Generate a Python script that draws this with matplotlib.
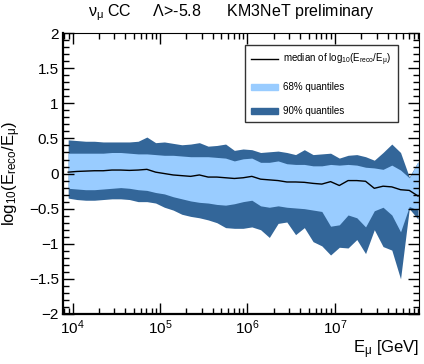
import numpy as np
import matplotlib
matplotlib.use("Agg")
import matplotlib.pyplot as plt
from matplotlib.ticker import MultipleLocator, LogLocator, NullFormatter
from matplotlib.lines import Line2D
from matplotlib.patches import Patch

plt.rcParams["font.family"] = ["Liberation Sans", "DejaVu Sans"]
plt.rcParams["mathtext.fontset"] = "custom"
plt.rcParams["mathtext.rm"] = "Liberation Sans"
plt.rcParams["mathtext.it"] = "Liberation Sans"

# bin centres in log10(E/GeV)
log_e = [3.95, 4.05, 4.15, 4.25, 4.35, 4.45, 4.55, 4.65, 4.75, 4.85,
         4.95, 5.05, 5.15, 5.25, 5.35, 5.45, 5.55, 5.65, 5.75, 5.85,
         5.95, 6.05, 6.15, 6.25, 6.35, 6.45, 6.55, 6.65, 6.75, 6.85,
         6.95, 7.05, 7.15, 7.25, 7.35, 7.45, 7.55, 7.65, 7.75, 7.85, 7.95]

p95 = [0.48, 0.47, 0.46, 0.46, 0.45, 0.45, 0.45, 0.45, 0.46, 0.52,
       0.44, 0.45, 0.43, 0.41, 0.42, 0.44, 0.39, 0.40, 0.42, 0.33,
       0.35, 0.34, 0.30, 0.31, 0.32, 0.30, 0.27, 0.34, 0.27, 0.28,
       0.29, 0.22, 0.26, 0.27, 0.24, 0.19, 0.30, 0.42, 0.30, -0.05, 0.17]
p84 = [0.29, 0.29, 0.29, 0.29, 0.29, 0.30, 0.30, 0.29, 0.28, 0.28,
       0.27, 0.26, 0.26, 0.25, 0.24, 0.24, 0.24, 0.23, 0.22, 0.18,
       0.21, 0.22, 0.16, 0.16, 0.18, 0.14, 0.13, 0.13, 0.11, 0.11,
       0.13, 0.12, 0.13, 0.12, 0.09, 0.08, 0.06, 0.12, 0.05, -0.06, 0.17]
median = [0.02, 0.03, 0.035, 0.04, 0.04, 0.05, 0.05, 0.045, 0.05, 0.06,
          0.02, 0.0, -0.02, -0.03, -0.04, -0.02, -0.05, -0.05, -0.06, -0.07,
          -0.06, -0.04, -0.08, -0.09, -0.10, -0.12, -0.12, -0.125, -0.14, -0.15,
          -0.115, -0.17, -0.10, -0.10, -0.11, -0.21, -0.18, -0.19, -0.23, -0.24, -0.32]
p16 = [-0.21, -0.22, -0.23, -0.23, -0.22, -0.21, -0.20, -0.21, -0.23, -0.24,
       -0.27, -0.29, -0.33, -0.36, -0.39, -0.41, -0.42, -0.44, -0.45, -0.43,
       -0.40, -0.38, -0.46, -0.48, -0.46, -0.48, -0.49, -0.50, -0.52, -0.54,
       -0.75, -0.73, -0.59, -0.63, -0.76, -0.53, -0.48, -0.59, -0.83, -0.47, -0.52]
p5 = [-0.35, -0.37, -0.38, -0.38, -0.37, -0.36, -0.36, -0.37, -0.40, -0.40,
      -0.42, -0.48, -0.52, -0.58, -0.61, -0.63, -0.66, -0.70, -0.77, -0.78,
      -0.78, -0.76, -0.80, -0.91, -0.71, -0.69, -0.87, -0.77, -0.97, -1.03,
      -1.16, -1.05, -1.06, -0.94, -1.14, -0.80, -1.04, -1.09, -1.50, -0.50, -0.65]

light = "#99ccff"
dark = "#336699"

energy = 10 ** np.array(log_e)

fig = plt.figure(figsize=(4.24, 3.64), dpi=100)
ax = fig.add_axes([0.1486, 0.1374, 0.8394, 0.7716])

ax.fill_between(energy, p5, p95, color=dark, lw=0)
ax.fill_between(energy, p16, p84, color=light, lw=0)
ax.plot(energy, median, color="black", lw=1)

ax.set_xscale("log")
ax.set_xlim(10 ** 3.891, 10 ** 7.96)
ax.set_ylim(-2, 2)

ax.yaxis.set_major_locator(MultipleLocator(0.5))
ax.yaxis.set_minor_locator(MultipleLocator(0.1))
ax.xaxis.set_major_locator(LogLocator(base=10, numticks=10))
ax.xaxis.set_minor_locator(LogLocator(base=10, subs=np.arange(2, 10), numticks=20))
ax.xaxis.set_minor_formatter(NullFormatter())
ax.yaxis.set_major_formatter(plt.FuncFormatter(
    lambda v, p: ("%g" % v).replace("-", "\u2212")))

ax.tick_params(which="both", direction="in", top=True, right=True,
               labelsize=11, pad=3, width=1)
ax.tick_params(which="major", length=8)
ax.tick_params(which="minor", length=4)
for side in ["left", "bottom"]:
    ax.spines[side].set_linewidth(1.6)

ax.set_ylabel(r"log$_{10}$(E$_{\rm reco}$/E$_\mu$)", fontsize=12, labelpad=4)
ax.set_xlabel(r"E$_\mu$ [GeV]", fontsize=12, loc="right", labelpad=1)

fig.text(0.545, 0.966, r"$\nu_\mu$ CC     $\Lambda$>-5.8      KM3NeT preliminary",
         ha="center", va="center", fontsize=11.5)

handles = [Line2D([], [], color="black", lw=1),
           Patch(color=light),
           Patch(color=dark)]
labels = [r"median of log$_{10}$(E$_{\rm reco}$/E$_\mu$)",
          "68% quantiles", "90% quantiles"]
leg = ax.legend(handles, labels, loc="upper right", bbox_to_anchor=(0.941, 0.957),
                fontsize=7, frameon=True, fancybox=False, edgecolor="black",
                borderpad=0.65, labelspacing=1.45, handlelength=2.7, handleheight=0.6,
                handletextpad=0.6, borderaxespad=0)
leg.get_frame().set_linewidth(1)

fig.savefig("out.png", dpi=100)
